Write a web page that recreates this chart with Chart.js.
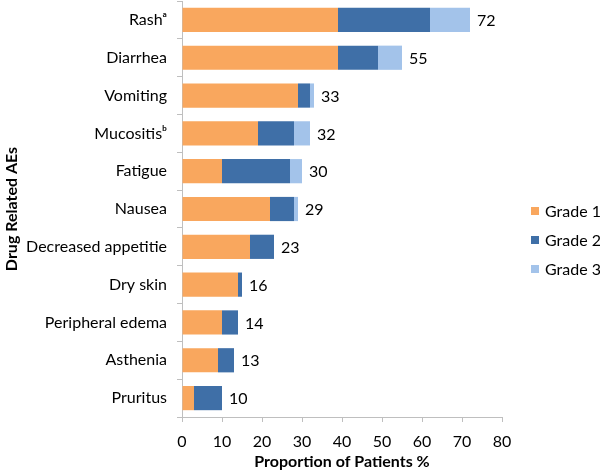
<!DOCTYPE html>
<html>
<head>
<meta charset="utf-8">
<script src="https://cdn.jsdelivr.net/npm/chart.js@4/dist/chart.umd.min.js"></script>
<style>
  html, body { margin: 0; padding: 0; background: #fff; }
  #wrap { width: 600px; height: 473px; }
</style>
</head>
<body>
<div id="wrap"><canvas id="chart" width="600" height="473"></canvas></div>
<script>
// Drug related adverse events by grade
const categories = ['Rashᵃ', 'Diarrhea', 'Vomiting', 'Mucositisᵇ', 'Fatigue', 'Nausea',
  'Decreased appetitie', 'Dry skin', 'Peripheral edema', 'Asthenia', 'Pruritus'];
const grade1 = [39, 39, 29, 19, 10, 22, 17, 14, 10, 9, 3];
const grade2 = [23, 10, 3, 9, 17, 6, 6, 1, 4, 4, 7];
const grade3 = [10, 6, 1, 4, 3, 1, 0, 0, 0, 0, 0];
const totals = [72, 55, 33, 32, 30, 29, 23, 16, 14, 13, 10];
const xTicks = [0, 10, 20, 30, 40, 50, 60, 70, 80];

const FONT = 'Lato, "Open Sans", sans-serif';
const AXIS = '#bfbfbf';

// write the total at the end of every bar
const totalLabels = {
  id: 'totalLabels',
  afterDatasetsDraw(chart) {
    const ctx = chart.ctx;
    const last = chart.getDatasetMeta(chart.data.datasets.length - 1);
    ctx.save();
    ctx.font = '16px ' + FONT;
    ctx.fillStyle = '#000';
    ctx.textBaseline = 'middle';
    ctx.textAlign = 'left';
    last.data.forEach((bar, i) => {
      const x = chart.scales.x.getPixelForValue(grade1[i] + grade2[i] + grade3[i]);
      ctx.fillText(String(totals[i]), x + 7, bar.y + 1);
    });
    ctx.restore();
  }
};

// vertical legend on the right, like the original
const sideLegend = {
  id: 'sideLegend',
  afterDraw(chart) {
    const ctx = chart.ctx;
    const x0 = chart.chartArea.right + 29;
    const y0 = 211;
    ctx.save();
    ctx.font = '16px ' + FONT;
    ctx.textBaseline = 'middle';
    ctx.textAlign = 'left';
    chart.data.datasets.forEach((ds, i) => {
      const y = y0 + i * 29;
      ctx.fillStyle = ds.backgroundColor;
      ctx.fillRect(x0, y - 4, 8, 8);
      ctx.fillStyle = '#000';
      ctx.fillText(ds.label, x0 + 14, y + 1);
    });
    ctx.restore();
  }
};

new Chart(document.getElementById('chart').getContext('2d'), {
  type: 'bar',
  data: {
    labels: categories,
    datasets: [
      { label: 'Grade 1', data: grade1, backgroundColor: '#F9A75E' },
      { label: 'Grade 2', data: grade2, backgroundColor: '#3F6FA7' },
      { label: 'Grade 3', data: grade3, backgroundColor: '#A3C3EA' }
    ]
  },
  options: {
    indexAxis: 'y',
    responsive: false,
    animation: false,
    layout: { padding: { top: 1, right: 98, left: 0, bottom: 0 } },
    datasets: { bar: { barPercentage: 0.64, categoryPercentage: 1.0 } },
    scales: {
      x: {
        stacked: true,
        min: 0,
        max: 80,
        afterBuildTicks(scale) { scale.ticks = xTicks.map(v => ({ value: v })); },
        afterFit(scale) { scale.height = 56; scale.paddingLeft = 0; scale.paddingRight = 0; },
        border: { color: AXIS },
        grid: { drawOnChartArea: false, drawTicks: true, tickLength: 5, color: AXIS },
        ticks: { color: '#000', font: { family: FONT, size: 16 }, padding: 10 },
        title: { display: true, text: 'Proportion of Patients %', color: '#000',
          font: { family: FONT, size: 16, weight: 'bold' }, padding: { top: 4, bottom: 2 } }
      },
      y: {
        stacked: true,
        afterFit(scale) { scale.width = 182; scale.paddingTop = 0; scale.paddingBottom = 0; },
        border: { color: AXIS },
        grid: { drawOnChartArea: false, drawTicks: true, tickLength: 5, color: AXIS, offset: true },
        ticks: { color: '#000', font: { family: FONT, size: 16 }, padding: 10 },
        title: { display: true, text: 'Drug Related AEs', color: '#000',
          font: { family: FONT, size: 16, weight: 'bold' }, padding: { top: 2, bottom: 0 } }
      }
    },
    plugins: {
      legend: { display: false },
      tooltip: { enabled: false }
    }
  },
  plugins: [totalLabels, sideLegend]
});
</script>
</body>
</html>
